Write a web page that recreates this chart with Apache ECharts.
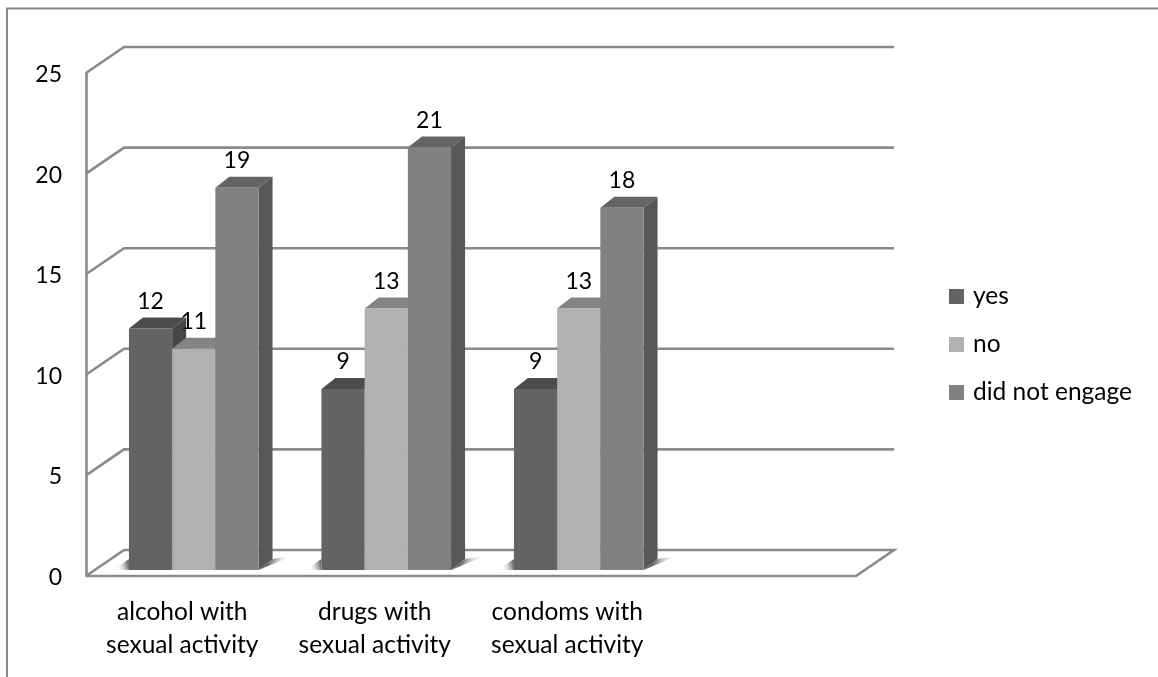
<!DOCTYPE html>
<html>
<head>
<meta charset="utf-8">
<style>html,body{margin:0;padding:0;background:#fff}#chart{width:1158px;height:677px}</style>
<script src="https://cdn.jsdelivr.net/npm/echarts@6/dist/echarts.min.js"></script>
</head>
<body>
<div id="chart"></div>
<script>
// Survey responses per behaviour; the fourth category slot stays empty.
const categories = ['alcohol with\nsexual activity', 'drugs with\nsexual activity', 'condoms with\nsexual activity', ''];
const yesValues = [12, 9, 9];
const noValues = [11, 13, 13];
const didNotEngageValues = [19, 21, 18];
const yTicks = [0, 5, 10, 15, 20, 25];

const FONT = 'Lato, "Open Sans", sans-serif';
const TEXT_SIZE = 24.5, DIGIT_SIZE = 23;
const GRID_COLOR = '#8a8a8a';
// Oblique projection of the chart box.
const BOX_DX = 38, BOX_DY = 26;
// Bars sit slightly inside the floor.
const BAR_DX = 14, BAR_DY = 11, FLOOR_DX = 11.5, FLOOR_DY = 6;
const BAR_W = 43.2;

const shades = {
  yes: { front: '#636363', top: '#4c4c4c', side: '#464646' },
  no: { front: '#b1b1b1', top: '#848484', side: '#848484' },
  dne: { front: '#818181', top: '#646464', side: '#575757' }
};

function poly(points, fill) {
  return { type: 'polygon', shape: { points }, style: { fill } };
}

// Draws one oblique bar: front, top and side faces plus its value label.
function barRenderer(shade, slot) {
  return function (params, api) {
    const cat = api.value(0), val = api.value(1);
    const base = api.coord([cat, 0]);
    const tip = api.coord([cat, val]);
    const x0 = base[0] + FLOOR_DX - 1.5 * BAR_W + slot * BAR_W;
    const x1 = x0 + BAR_W;
    const y0 = base[1] - FLOOR_DY;
    const yt = tip[1] - FLOOR_DY;
    return {
      type: 'group',
      children: [
        poly([[x0, yt], [x1, yt], [x1 + BAR_DX, yt - BAR_DY], [x0 + BAR_DX, yt - BAR_DY]], shade.top),
        poly([[x1, yt], [x1 + BAR_DX, yt - BAR_DY], [x1 + BAR_DX, y0 - BAR_DY], [x1, y0]], shade.side),
        { type: 'rect', shape: { x: x0, y: yt, width: BAR_W, height: y0 - yt }, style: { fill: shade.front } },
        { type: 'text', x: x0 + BAR_W / 2, y: yt - 27,
          style: { text: String(val), fill: '#000', font: DIGIT_SIZE + 'px ' + FONT, align: 'center', verticalAlign: 'middle' } }
      ]
    };
  };
}

// Soft floor shadow beside a whole bar cluster.
function shadowRenderer(params, api) {
  const base = api.coord([api.value(0), 0]);
  const left = base[0] + FLOOR_DX - 1.5 * BAR_W;
  const right = left + 3 * BAR_W;
  const y0 = base[1] - FLOOR_DY;
  const fade = (x, y, x2, y2) => ({
    type: 'linear', global: true, x, y, x2, y2,
    colorStops: [{ offset: 0, color: 'rgba(80,80,80,0.85)' }, { offset: 1, color: 'rgba(255,255,255,0)' }]
  });
  return {
    type: 'group',
    children: [
      poly([[right, y0], [right + BAR_DX, y0 - BAR_DY], [right + 34, y0 - 14]], fade(right + 10, y0 - 7, right + 26, y0 + 1)),
      poly([[left, y0], [left, y0 - 11], [left - 16, y0]], fade(left, y0 - 4, left - 13, y0 - 1))
    ]
  };
}

// Back-wall gridlines with their slant to the left wall; the floor closes at zero.
function wallRenderer(params, api) {
  const v = api.value(0);
  const a = api.coord([0, v]);
  const xLeft = a[0] - api.size([1, 0])[0] / 2;
  const xRight = xLeft + api.size([1, 0])[0] * categories.length;
  const y = a[1];
  const pts = [[xLeft, y], [xLeft + BOX_DX, y - BOX_DY], [xRight + BOX_DX, y - BOX_DY]];
  if (v === 0) pts.push([xRight, y], [xLeft, y]);
  return { type: 'polyline', shape: { points: pts },
    style: { stroke: GRID_COLOR, lineWidth: 2.6, fill: null, lineJoin: 'miter' } };
}

function barSeries(name, values, shade, slot) {
  return {
    type: 'custom', name, coordinateSystem: 'cartesian2d', z: 4,
    itemStyle: { color: shade.front },
    encode: { x: 0, y: 1 },
    renderItem: barRenderer(shade, slot),
    data: values.map((v, i) => [i, v])
  };
}

const chart = echarts.init(document.getElementById('chart'), null, { renderer: 'canvas' });
chart.setOption({
  animation: false,
  backgroundColor: '#fff',
  textStyle: { fontFamily: FONT },
  grid: { left: 86, top: 73, width: 770, height: 503, containLabel: false },
  xAxis: {
    type: 'category', data: categories,
    axisLine: { show: false }, axisTick: { show: false },
    axisLabel: { interval: 0, color: '#000', fontSize: TEXT_SIZE, lineHeight: 33, margin: 20, fontFamily: FONT }
  },
  yAxis: {
    type: 'value', min: 0, max: 25, interval: 5,
    splitLine: { show: false },
    axisLine: { show: true, lineStyle: { color: GRID_COLOR, width: 2.6 } },
    axisTick: { show: false },
    axisLabel: { color: '#000', fontSize: DIGIT_SIZE, margin: 24, lineHeight: 3, verticalAlign: 'top', fontFamily: FONT }
  },
  legend: {
    show: true, orient: 'vertical', left: 949, top: 284, padding: 0,
    itemWidth: 15, itemHeight: 15, itemGap: 23, icon: 'rect',
    textStyle: { color: '#000', fontSize: TEXT_SIZE, fontFamily: FONT, padding: [0, 0, 0, 4] },
    data: ['yes', 'no', 'did not engage']
  },
  graphic: [
    { type: 'polyline', silent: true, shape: { points: [[7, 677], [7, 8.5], [1158, 8.5]] },
      style: { stroke: '#888', lineWidth: 2, fill: null } }
  ],
  series: [
    { type: 'custom', name: 'walls', coordinateSystem: 'cartesian2d', z: 1, silent: true,
      encode: { y: 0 }, renderItem: wallRenderer, data: yTicks.map(t => [t]) },
    { type: 'custom', name: 'shadows', coordinateSystem: 'cartesian2d', z: 2, silent: true,
      encode: { x: 0 }, renderItem: shadowRenderer, data: yesValues.map((v, i) => [i]) },
    barSeries('yes', yesValues, shades.yes, 0),
    barSeries('no', noValues, shades.no, 1),
    barSeries('did not engage', didNotEngageValues, shades.dne, 2)
  ]
});
</script>
</body>
</html>
